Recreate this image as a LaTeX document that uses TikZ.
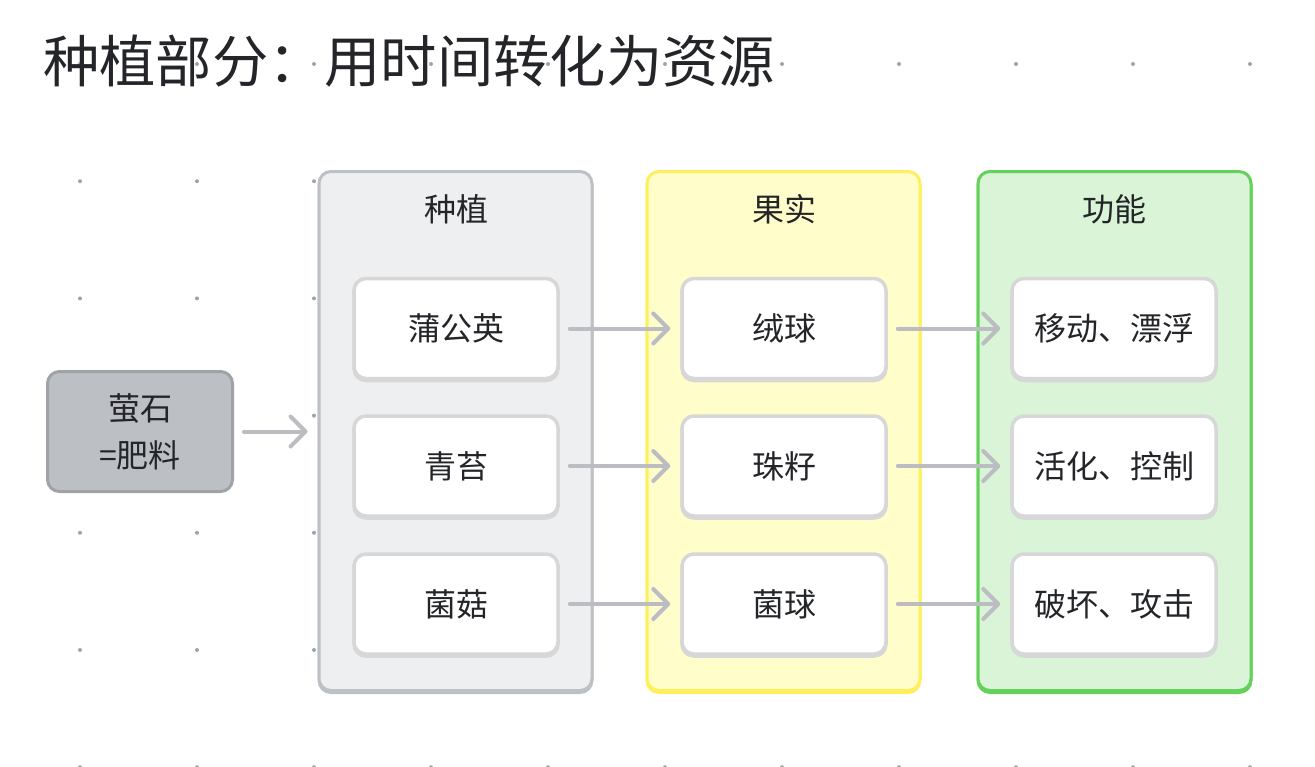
\documentclass[tikz,border=0pt]{standalone}
\usepackage{fontspec}
\newfontfamily\cjk{Noto Sans CJK SC}
\usetikzlibrary{arrows.meta}
\definecolor{txt}{HTML}{232529}
\definecolor{dotc}{HTML}{A0A3A8}
\definecolor{arr}{HTML}{BCBDC2}
\definecolor{grayfill}{HTML}{EEEFF1}
\definecolor{grayline}{HTML}{BDC0C5}
\definecolor{yelfill}{HTML}{FFFDCA}
\definecolor{yelline}{HTML}{FFEF5C}
\definecolor{grnfill}{HTML}{D9F4D6}
\definecolor{grnline}{HTML}{64D15A}
\definecolor{itemline}{HTML}{D7D7D8}
\definecolor{stonefill}{HTML}{BCBFC4}
\definecolor{stoneline}{HTML}{9FA2A7}
\tikzset{
  basebox/.style={rectangle, rounded corners=12pt, inner sep=0pt, align=center},
  container/.style 2 args={basebox, fill=#1, draw=#2, line width=3pt,
    minimum width=273pt, minimum height=519pt,
    preaction={draw=#2, line width=3pt, transform canvas={yshift=-2pt}}},
  itembox/.style={basebox, fill=white, draw=itemline, line width=3.5pt,
    minimum width=204pt, minimum height=100pt,
    preaction={draw=itemline, line width=3.5pt, transform canvas={yshift=-2pt}}},
  stonebox/.style={basebox, fill=stonefill, draw=stoneline, line width=3pt,
    minimum width=185pt, minimum height=120pt},
  conn/.style={draw=arr, line width=4pt, line cap=round,
    -{Straight Barb[length=15pt,width=30pt,round]},
    shorten <=10pt, shorten >=10pt},
  ctitle/.style={inner sep=0pt},
}
\begin{document}
\begin{tikzpicture}[x=1pt,y=-1pt, font=\cjk\fontsize{32}{47}\selectfont, text=txt]
\useasboundingbox (0,0) rectangle (1315,766);
% dot grid
\foreach \i in {0,...,10}{
  \foreach \j in {0,...,6}{
    \fill[dotc] (80+117*\i, 64+117.2*\j) circle (2pt);
  }
}
% title
\node[anchor=west, inner sep=0pt, font=\cjk\fontsize{56.3}{60}\selectfont] (title) at (43,61) {种植部分：用时间转化为资源};
% left node
\node[stonebox] (stone) at (140,431.5) {萤石\\=肥料};
% containers
\node[container={grayfill}{grayline}] (c1) at (455.5,431) {};
\node[container={yelfill}{yelline}] (c2) at (783.5,431) {};
\node[container={grnfill}{grnline}] (c3) at (1114.5,431) {};
\node[ctitle] (t1) at (456,209) {种植};
\node[ctitle] (t2) at (784,209) {果实};
\node[ctitle] (t3) at (1114,209) {功能};
% items
\node[itembox] (a1) at (456,328.5) {蒲公英};
\node[itembox] (a2) at (456,466) {青苔};
\node[itembox] (a3) at (456,604) {菌菇};
\node[itembox] (b1) at (784,328.5) {绒球};
\node[itembox] (b2) at (784,466) {珠籽};
\node[itembox] (b3) at (784,604) {菌球};
\node[itembox] (f1) at (1114,328.5) {移动、漂浮};
\node[itembox] (f2) at (1114,466) {活化、控制};
\node[itembox] (f3) at (1114,604) {破坏、攻击};
% connectors
\draw[conn] (stone.east) -- (stone.east -| c1.west);
\draw[conn] (a1) -- (b1);
\draw[conn] (a2) -- (b2);
\draw[conn] (a3) -- (b3);
\draw[conn] (b1) -- (f1);
\draw[conn] (b2) -- (f2);
\draw[conn] (b3) -- (f3);
\end{tikzpicture}
\end{document}
